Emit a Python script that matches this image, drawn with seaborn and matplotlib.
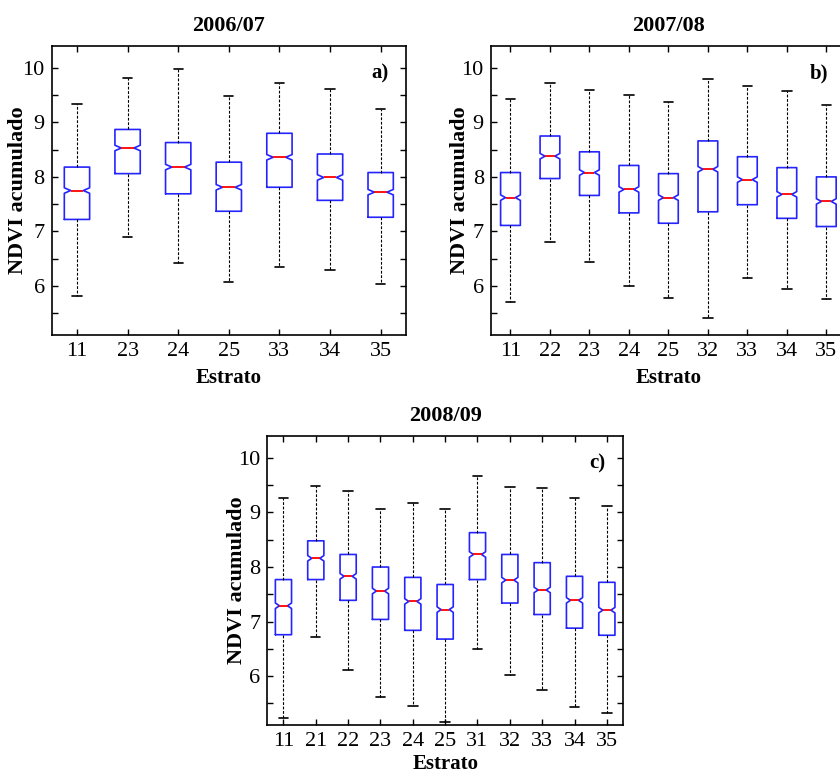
import matplotlib
matplotlib.use("Agg")
import matplotlib.pyplot as plt
import seaborn as sns

# ── Data (whisker low, Q1, median, Q3, whisker high) ──
strata_a = ["11", "23", "24", "25", "33", "34", "35"]
low_a = [5.82, 6.89, 6.43, 6.07, 6.34, 6.29, 6.03]
q1_a = [7.22, 8.06, 7.69, 7.37, 7.81, 7.57, 7.26]
med_a = [7.75, 8.53, 8.18, 7.81, 8.36, 7.99, 7.72]
q3_a = [8.18, 8.87, 8.63, 8.27, 8.80, 8.42, 8.08]
high_a = [9.34, 9.82, 9.97, 9.49, 9.73, 9.61, 9.24]

strata_b = ["11", "22", "23", "24", "25", "32", "33", "34", "35"]
low_b = [5.71, 6.81, 6.44, 6.00, 5.78, 5.42, 6.15, 5.94, 5.76]
q1_b = [7.11, 7.97, 7.66, 7.34, 7.15, 7.36, 7.49, 7.24, 7.09]
med_b = [7.62, 8.38, 8.08, 7.77, 7.62, 8.14, 7.95, 7.68, 7.55]
q3_b = [8.08, 8.75, 8.46, 8.21, 8.06, 8.66, 8.37, 8.17, 8.00]
high_b = [9.42, 9.72, 9.60, 9.50, 9.37, 9.79, 9.67, 9.58, 9.31]

strata_c = ["11", "21", "22", "23", "24", "25", "31", "32", "33", "34", "35"]
low_c = [5.24, 6.71, 6.12, 5.62, 5.45, 5.16, 6.50, 6.03, 5.74, 5.43, 5.32]
q1_c = [6.76, 7.77, 7.39, 7.04, 6.84, 6.68, 7.77, 7.34, 7.13, 6.88, 6.75]
med_c = [7.29, 8.16, 7.83, 7.56, 7.37, 7.22, 8.23, 7.76, 7.58, 7.39, 7.21]
q3_c = [7.77, 8.48, 8.23, 8.00, 7.81, 7.68, 8.63, 8.23, 8.08, 7.83, 7.72]
high_c = [9.27, 9.49, 9.40, 9.07, 9.17, 9.07, 9.67, 9.46, 9.45, 9.27, 9.11]

notch_half = 0.05  # half height of the notch around the median

# ── Theme ─────────────────────────────────────────────────────────────────────
sns.set_theme(style="ticks")
plt.rcParams.update({
    "font.family": ["Liberation Serif", "DejaVu Serif"],
    "text.color": "black",
    "axes.labelcolor": "black",
    "axes.titlecolor": "black",
    "xtick.color": "black",
    "ytick.color": "black",
    "xtick.direction": "in",
    "ytick.direction": "in",
    "xtick.top": True,
    "ytick.right": True,
    "axes.linewidth": 1.2,
    "axes.edgecolor": "black",
})


def draw_panel(ax, strata, low, q1, med, q3, high, title, tag, capw, ylab_x, xpad):
    stats = []
    for lo, a, m, b, hi in zip(low, q1, med, q3, high):
        stats.append(dict(whislo=lo, q1=a, med=m, q3=b, whishi=hi,
                          cilo=m - notch_half, cihi=m + notch_half, fliers=[]))
    pos = list(range(1, len(strata) + 1))
    ax.bxp(stats, positions=pos, widths=0.5, shownotches=True, showfliers=False,
           capwidths=capw, manage_ticks=False,
           boxprops=dict(color="#2424ff", linewidth=1.2),
           medianprops=dict(color="red", linewidth=1.3),
           whiskerprops=dict(color="black", linewidth=0.8, linestyle=(0, (2.5, 1.5))),
           capprops=dict(color="black", linewidth=1.2))
    ax.set_xlim(0.5, len(strata) + 0.5)
    ax.set_ylim(5.1, 10.4)
    ax.set_xticks(pos)
    ax.set_xticklabels(strata, fontsize=16)
    yt = [5.5, 6, 6.5, 7, 7.5, 8, 8.5, 9, 9.5, 10]
    ax.set_yticks(yt)
    ax.set_yticklabels([str(int(v)) if v == int(v) else "" for v in yt], fontsize=16)
    ax.tick_params(length=4, width=1.0, colors="black")
    ax.tick_params(axis="x", pad=5)
    ax.tick_params(axis="y", pad=5)
    ax.set_title(title, fontsize=16, fontweight="bold", pad=11)
    ax.set_xlabel("Estrato", fontsize=15, fontweight="bold", labelpad=xpad)
    ax.set_ylabel("NDVI acumulado", fontsize=16, fontweight="bold")
    ax.yaxis.set_label_coords(ylab_x, 0.5)
    ax.text(0.95, 0.905, tag, transform=ax.transAxes, ha="right", va="center",
            fontsize=15, fontweight="bold")
    for s in ax.spines.values():
        s.set_visible(True)


fig = plt.figure(figsize=(8.4, 7.75), dpi=100)
ax_a = fig.add_axes([0.0615, 0.5677, 0.4218, 0.3729])
ax_b = fig.add_axes([0.5842, 0.5677, 0.4230, 0.3729])
ax_c = fig.add_axes([0.3182, 0.0641, 0.4235, 0.3733])

draw_panel(ax_a, strata_a, low_a, q1_a, med_a, q3_a, high_a, "2006/07", "a)", 0.18, -0.067, 5)
draw_panel(ax_b, strata_b, low_b, q1_b, med_b, q3_b, high_b, "2007/08", "b)", 0.24, -0.057, 5)
draw_panel(ax_c, strata_c, low_c, q1_c, med_c, q3_c, high_c, "2008/09", "c)", 0.29, -0.056, 2)

fig.savefig("out.png", dpi=100, facecolor="white")
